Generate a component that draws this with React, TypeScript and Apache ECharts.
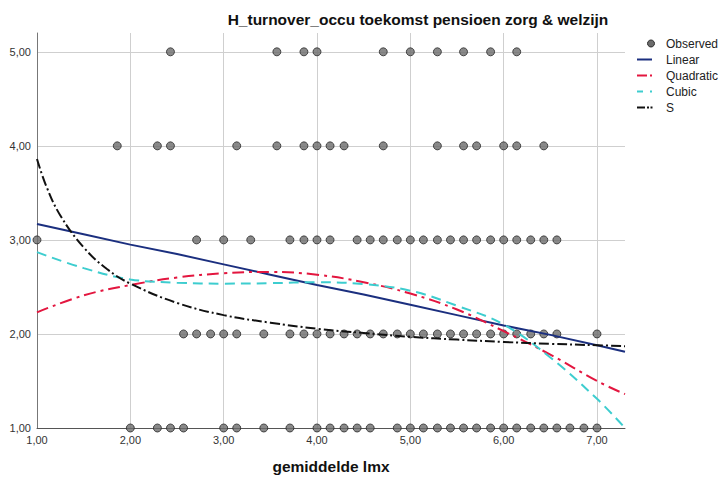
import React, { useEffect, useRef } from "react";
import * as echarts from "echarts";

const titleText = "H_turnover_occu toekomst pensioen zorg & welzijn";
const xTitle = "gemiddelde lmx";

// Observed points: x values (gemiddelde lmx) per observed y level
const obsY5 = [2.43, 3.57, 3.86, 4.0, 4.71, 5.0, 5.29, 5.57, 5.86, 6.14];
const obsY4 = [1.86, 2.29, 2.43, 3.14, 3.57, 3.86, 4.0, 4.14, 4.29, 4.71, 5.29, 5.57, 5.71, 6.0, 6.14, 6.43];
const obsY3 = [1.0, 2.71, 3.0, 3.29, 3.71, 3.86, 4.0, 4.14, 4.43, 4.57, 4.71, 4.86, 5.0, 5.14, 5.29, 5.43, 5.57, 5.71, 5.86, 6.0, 6.14, 6.29, 6.43, 6.57];
const obsY2 = [2.57, 2.71, 2.86, 3.0, 3.14, 3.43, 3.71, 3.86, 4.0, 4.14, 4.29, 4.43, 4.57, 4.71, 4.86, 5.0, 5.14, 5.29, 5.43, 5.57, 5.71, 5.86, 6.0, 6.14, 6.29, 6.43, 6.57, 7.0];
const obsY1 = [2.0, 2.29, 2.43, 2.57, 3.0, 3.14, 3.43, 3.71, 4.0, 4.14, 4.29, 4.43, 4.57, 4.86, 5.0, 5.14, 5.29, 5.43, 5.57, 5.71, 5.86, 6.0, 6.14, 6.29, 6.43, 6.57, 6.71, 6.86, 7.0];
const obsLevels = [5, 4, 3, 2, 1];

// Fitted curves
const fitX = [1, 1.5, 2, 2.5, 3, 3.5, 4, 4.5, 5, 5.5, 6, 6.5, 7, 7.3];
const linearY = [3.17, 3.06, 2.95, 2.85, 2.74, 2.63, 2.52, 2.42, 2.31, 2.20, 2.09, 1.99, 1.88, 1.81];
const quadraticY = [2.23, 2.41, 2.52, 2.6, 2.645, 2.66, 2.63, 2.55, 2.43, 2.26, 2.03, 1.78, 1.5, 1.36];
const cubicY = [2.87, 2.7, 2.58, 2.545, 2.535, 2.54, 2.55, 2.53, 2.46, 2.3, 2.1, 1.75, 1.31, 1.0];
const sX = [1, 1.1, 1.25, 1.5, 1.75, 2, 2.5, 3, 3.5, 4, 4.5, 5, 5.5, 6, 6.5, 7, 7.3];
const sY = [3.86, 3.57, 3.26, 2.92, 2.69, 2.535, 2.33, 2.2, 2.12, 2.055, 2.01, 1.97, 1.94, 1.915, 1.895, 1.88, 1.87];

const legendNames = ["Observed", "Linear", "Quadratic", "Cubic", "S"];

const FONT = "'Liberation Sans', Arial, sans-serif";
const C_LIN = "#1b2f7f";
const C_QUAD = "#e3163f";
const C_CUB = "#3dcdcf";
const C_S = "#111111";

const fmt = (v: number) =>
  Math.abs(v - Math.round(v)) < 1e-6 ? v.toFixed(2).replace(".", ",") : "";

export default function App() {
  const ref = useRef<HTMLDivElement>(null);
  useEffect(() => {
    if (!ref.current) return;
    const chart = echarts.init(ref.current, undefined, { renderer: "svg" });
    const obsArrays = [obsY5, obsY4, obsY3, obsY2, obsY1];
    const scatterData: number[][] = [];
    obsArrays.forEach((arr, i) => arr.forEach((x) => scatterData.push([x, obsLevels[i]])));
    const pairs = (xs: number[], ys: number[]) => xs.map((x, i) => [x, ys[i]]);

    const legTop = 43.5;
    const legGap = 16;
    const lx0 = 637;
    const tx = 666;
    const seg = (x1: number, x2: number, row: number, color: string) => ({
      type: "line",
      shape: { x1, y1: legTop + row * legGap, x2, y2: legTop + row * legGap },
      style: { stroke: color, lineWidth: 2 },
    });
    const legendGraphics: any[] = [
      {
        type: "circle",
        shape: { cx: 651, cy: legTop, r: 3.5 },
        style: { fill: "#6b6b6b", stroke: "#2b2b2b", lineWidth: 1 },
      },
      seg(lx0, 652, 1, C_LIN),
      seg(lx0, 647, 2, C_QUAD),
      seg(650, 652, 2, C_QUAD),
      seg(lx0, 643, 3, C_CUB),
      seg(650, 652, 3, C_CUB),
      seg(lx0, 645, 4, C_S),
      seg(647, 649, 4, C_S),
      seg(650.5, 652.5, 4, C_S),
    ];
    legendNames.forEach((n, i) => {
      legendGraphics.push({
        type: "text",
        x: tx,
        y: legTop + i * legGap,
        style: {
          text: n,
          fill: "#222",
          font: `12px ${FONT}`,
          textAlign: "left",
          textVerticalAlign: "middle",
        },
      });
    });

    chart.setOption({
      animation: false,
      backgroundColor: "#ffffff",
      grid: { left: 37, right: 95, top: 33, bottom: 49, containLabel: false },
      xAxis: {
        type: "value",
        min: 1,
        max: 7.3,
        interval: 1,
        name: xTitle,
        nameLocation: "middle",
        nameGap: 30,
        nameTextStyle: { fontFamily: FONT, fontSize: 15.5, fontWeight: "bold", color: "#111" },
        axisLine: { show: true, lineStyle: { color: "#555", width: 1 } },
        axisTick: { show: false },
        axisLabel: { formatter: fmt, fontFamily: FONT, fontSize: 11, color: "#333", margin: 6 },
        splitLine: { show: true, showMaxLine: false, showMinLine: false, lineStyle: { color: "#cfcfcf", width: 1 } },
      },
      yAxis: {
        type: "value",
        min: 1,
        max: 5.2,
        interval: 1,
        axisLine: { show: true, lineStyle: { color: "#777", width: 1 } },
        axisTick: { show: false },
        axisLabel: { formatter: fmt, fontFamily: FONT, fontSize: 11, color: "#333", margin: 6 },
        splitLine: { show: true, showMaxLine: false, showMinLine: false, lineStyle: { color: "#cfcfcf", width: 1 } },
      },
      graphic: [
        {
          type: "text",
          x: 418,
          y: 19,
          style: {
            text: titleText,
            fill: "#111",
            font: `bold 15.5px ${FONT}`,
            textAlign: "center",
            textVerticalAlign: "middle",
          },
        },
        ...legendGraphics,
      ],
      series: [
        {
          name: "Observed",
          type: "scatter",
          data: scatterData,
          symbol: "circle",
          symbolSize: 8,
          clip: false,
          itemStyle: { color: "#6b6b6b", borderColor: "#2b2b2b", borderWidth: 1 },
          z: 2,
        },
        {
          name: "Linear",
          type: "line",
          data: pairs(fitX, linearY),
          showSymbol: false,
          lineStyle: { color: C_LIN, width: 2 },
          z: 3,
        },
        {
          name: "Quadratic",
          type: "line",
          data: pairs(fitX, quadraticY),
          smooth: 0.4,
          showSymbol: false,
          lineStyle: { color: C_QUAD, width: 2, type: [12, 5, 3, 5] },
          z: 3,
        },
        {
          name: "Cubic",
          type: "line",
          data: pairs(fitX, cubicY),
          smooth: 0.4,
          showSymbol: false,
          lineStyle: { color: C_CUB, width: 2, type: [10, 6] },
          z: 3,
        },
        {
          name: "S",
          type: "line",
          data: pairs(sX, sY),
          smooth: 0.4,
          showSymbol: false,
          lineStyle: { color: C_S, width: 2, type: [10, 3, 2, 3] },
          z: 3,
        },
      ],
    });
    return () => chart.dispose();
  }, []);
  return (
    <div
      ref={ref}
      style={{ position: "fixed", left: 0, top: 0, width: 720, height: 479, background: "#fff" }}
    />
  );
}
